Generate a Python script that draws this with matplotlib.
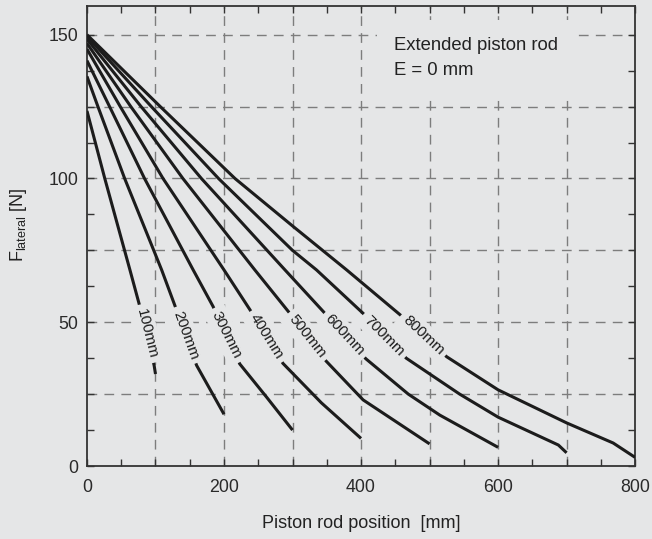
import numpy as np
import matplotlib
matplotlib.use('Agg')
import matplotlib.pyplot as plt

plt.rcParams['font.family'] = ['Liberation Sans', 'DejaVu Sans']
plt.rcParams['mathtext.fontset'] = 'custom'
plt.rcParams['mathtext.rm'] = 'Liberation Sans'

BG = '#e5e6e7'
INK = '#1c1c1c'

# stroke lengths [mm]
strokes = [100, 200, 300, 400, 500, 600, 700, 800]
labels = ['100mm', '200mm', '300mm', '400mm', '500mm', '600mm', '700mm', '800mm']

# piston rod position [mm] / lateral force [N]
pos_100 = [0, 26, 62.7, 76, 98, 100]
f_100 = [123.5, 100, 68.2, 56.5, 35, 32]

pos_200 = [0, 16, 55, 109, 128, 160, 200]
f_200 = [135.5, 125, 100, 68.2, 56, 35, 18]

pos_300 = [0, 33, 84, 155, 184, 223, 262, 300]
f_300 = [141, 125, 100, 68.2, 55.5, 35.5, 24, 12.5]

pos_400 = [0, 48.6, 111, 200, 238, 286, 342, 400]
f_400 = [145, 125, 100, 68.2, 54.3, 35.7, 22, 9.6]

pos_500 = [0, 64, 140, 245, 294, 349, 403, 500]
f_500 = [147, 125, 100, 68.2, 53.7, 36.5, 23, 7.7]

pos_600 = [0, 79, 167, 289, 345, 407, 469, 515, 600]
f_600 = [148.5, 125, 100, 68.2, 53.7, 37.3, 25, 17.7, 6.5]

pos_700 = [0, 94, 192, 300, 335, 403, 466, 544, 600, 688, 700]
f_700 = [149.5, 125, 100, 75, 68.2, 53.1, 37.5, 25, 17, 7.3, 4.6]

pos_800 = [0, 107, 216, 300, 379, 457, 525, 600, 700, 768, 800]
f_800 = [150, 125, 100, 83.5, 68.2, 52.6, 38, 26.5, 15, 8, 3]

curves = [(pos_100, f_100), (pos_200, f_200), (pos_300, f_300), (pos_400, f_400),
          (pos_500, f_500), (pos_600, f_600), (pos_700, f_700), (pos_800, f_800)]

# where the stroke labels sit on each curve, and their angle on screen
label_x = [87, 144, 204, 262, 321, 376, 434, 491]
label_y = [46, 45.5, 45.5, 45, 45, 45.5, 45.3, 45.5]
label_rot = [-76, -70, -63.5, -58, -51.5, -47, -45, -43]

fig = plt.figure(figsize=(6.52, 5.39), dpi=100, facecolor=BG)
ax = fig.add_axes([0.1334, 0.1354, 0.8407, 0.8535], facecolor=BG)

# dashed grid
for gx in range(100, 800, 100):
    ax.axvline(gx, color='#7d7d7d', lw=1.0, ls=(0, (7, 5.2)), zorder=1)
for gy in np.arange(25, 151, 25):
    ax.axhline(gy, color='#7d7d7d', lw=1.0, ls=(0, (7, 5.2)), zorder=1)

for (px, fy) in curves:
    ax.plot(px, fy, color=INK, lw=2.2, solid_capstyle='butt',
            solid_joinstyle='round', zorder=3)

for lab, lx, ly, rot in zip(labels, label_x, label_y, label_rot):
    ax.text(lx, ly, lab, fontsize=11, color=INK, rotation=rot,
            rotation_mode='anchor', ha='center', va='center', zorder=5,
            bbox=dict(boxstyle='square,pad=0.3', fc=BG, ec='none'))

ax.text(0.56, 0.933, 'Extended piston rod\nE = 0 mm', transform=ax.transAxes,
        fontsize=13.3, color='#222222', ha='left', va='top', linespacing=1.62,
        zorder=5, bbox=dict(boxstyle='square,pad=0.9', fc=BG, ec='none'))

ax.set_xlim(0, 800)
ax.set_ylim(0, 160)
ax.set_xticks([0, 200, 400, 600, 800])
ax.set_xticks(np.arange(0, 801, 50), minor=True)
ax.set_yticks([0, 50, 100, 150])
ax.set_yticks(np.arange(0, 160.1, 12.5), minor=True)
ax.tick_params(which='both', direction='in', top=True, right=True,
               color='#333333', width=1.0, length=5)
ax.tick_params(axis='x', which='major', labelsize=12.8, pad=9, labelcolor='#2a2a2a')
ax.tick_params(axis='y', which='major', labelsize=12.8, pad=6, labelcolor='#2a2a2a')
for s in ax.spines.values():
    s.set_color('#333333')
    s.set_linewidth(1.3)

ax.set_xlabel('Piston rod position  [mm]', fontsize=13, color='#222222', labelpad=14)
ax.set_ylabel(r'F$_{\mathregular{lateral}}$ [N]', fontsize=13, color='#222222')
ax.yaxis.set_label_coords(-0.106, 0.524)

fig.savefig('out.png', dpi=100, facecolor=BG)
